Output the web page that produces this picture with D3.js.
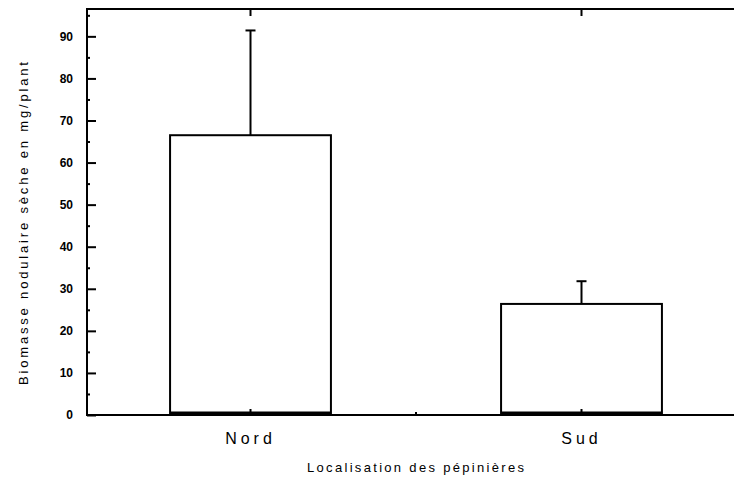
<!DOCTYPE html>
<html><head><meta charset="utf-8">
<script src="https://cdn.jsdelivr.net/npm/d3@7"></script>
<style>html,body{margin:0;padding:0;background:#fff;}svg{display:block;}</style>
</head><body>
<svg id="chart" width="734" height="485"></svg>
<script>
const categories = ["Nord", "Sud"];
const means = [66.5, 26.4];
const errors = [24.9, 5.4];
const yTicks = [0, 10, 20, 30, 40, 50, 60, 70, 80, 90];
const yMinorTicks = [5, 15, 25, 35, 45, 55, 65, 75, 85, 95];
const xTitle = "Localisation des pépinières";
const yTitle = "Biomasse nodulaire sèche en mg/plant";

(function () {
const svg = d3.select("#chart");
const pLeft = 87, pRight = 747, pTop = 9, pBottom = 415;

const y = d3.scaleLinear().domain([0, 96.5]).range([pBottom, pTop]);
const x = d3.scaleBand().domain(categories).range([85, 747]).paddingInner(0.514).paddingOuter(0.257);

const g = svg.append("g");
categories.forEach((c, i) => {
  const x0 = x(c), w = x.bandwidth(), cx = x0 + w / 2;
  g.append("rect").attr("x", x0).attr("y", y(means[i])).attr("width", w)
    .attr("height", y(0) - y(means[i])).attr("fill", "#fff").attr("stroke", "#000").attr("stroke-width", 2);
  g.append("line").attr("x1", x0).attr("x2", x0 + w).attr("y1", y(0) - 1.5).attr("y2", y(0) - 1.5)
    .attr("stroke", "#000").attr("stroke-width", 4);
  g.append("line").attr("x1", cx).attr("x2", cx).attr("y1", y(means[i])).attr("y2", y(means[i] + errors[i]))
    .attr("stroke", "#000").attr("stroke-width", 2);
  g.append("line").attr("x1", cx - 5).attr("x2", cx + 5).attr("y1", y(means[i] + errors[i])).attr("y2", y(means[i] + errors[i]))
    .attr("stroke", "#000").attr("stroke-width", 2);
});

svg.append("rect").attr("x", pLeft).attr("y", pTop).attr("width", pRight - pLeft).attr("height", pBottom - pTop)
  .attr("fill", "none").attr("stroke", "#000").attr("stroke-width", 2);

const ya = svg.append("g").attr("transform", `translate(${pLeft},0)`)
  .call(d3.axisRight(y).tickValues(yTicks).tickSize(9).tickFormat(""));
ya.select(".domain").remove();
ya.selectAll("line").attr("stroke-width", 2);
const ym = svg.append("g").attr("transform", `translate(${pLeft},0)`)
  .call(d3.axisRight(y).tickValues(yMinorTicks).tickSize(3).tickFormat(""));
ym.select(".domain").remove();
ym.selectAll("line").attr("stroke-width", 2);

svg.append("g").selectAll("text").data(yTicks).join("text")
  .attr("x", 73).attr("y", d => y(d)).attr("dy", "0.35em").attr("text-anchor", "end")
  .attr("font-family", "Liberation Sans Narrow, Arial, sans-serif").attr("font-size", 12).attr("font-weight", "bold")
  .text(d => d);

const xa = svg.append("g").attr("transform", `translate(0,${pBottom})`).call(d3.axisTop(x).tickSize(6).tickFormat(""));
xa.select(".domain").remove();
xa.selectAll("line").attr("stroke-width", 2);
const mid = (x("Nord") + x("Sud") + x.bandwidth()) / 2;
svg.append("line").attr("x1", mid).attr("x2", mid).attr("y1", pBottom).attr("y2", pBottom - 3).attr("stroke", "#000").attr("stroke-width", 2);
const xt = svg.append("g").attr("transform", `translate(0,${pTop})`).call(d3.axisBottom(x).tickSize(7).tickFormat(""));
xt.select(".domain").remove();
xt.selectAll("line").attr("stroke-width", 2);

svg.append("g").selectAll("text").data(categories).join("text")
  .attr("x", d => x(d) + x.bandwidth() / 2).attr("y", 444).attr("text-anchor", "middle")
  .attr("font-family", "Liberation Sans Narrow, Arial, sans-serif").attr("font-size", 16)
  .attr("letter-spacing", 4).text(d => d);

svg.append("text").attr("x", 307).attr("y", 472)
  .attr("font-family", "Liberation Sans Narrow, Arial, sans-serif").attr("font-size", 13)
  .attr("textLength", 217).attr("lengthAdjust", "spacing")
  .text(xTitle);

svg.append("text").attr("transform", `translate(28,385) rotate(-90)`)
  .attr("font-family", "Liberation Sans Narrow, Arial, sans-serif").attr("font-size", 13)
  .attr("textLength", 323).attr("lengthAdjust", "spacing")
  .text(yTitle);
})();
</script>
</body></html>
